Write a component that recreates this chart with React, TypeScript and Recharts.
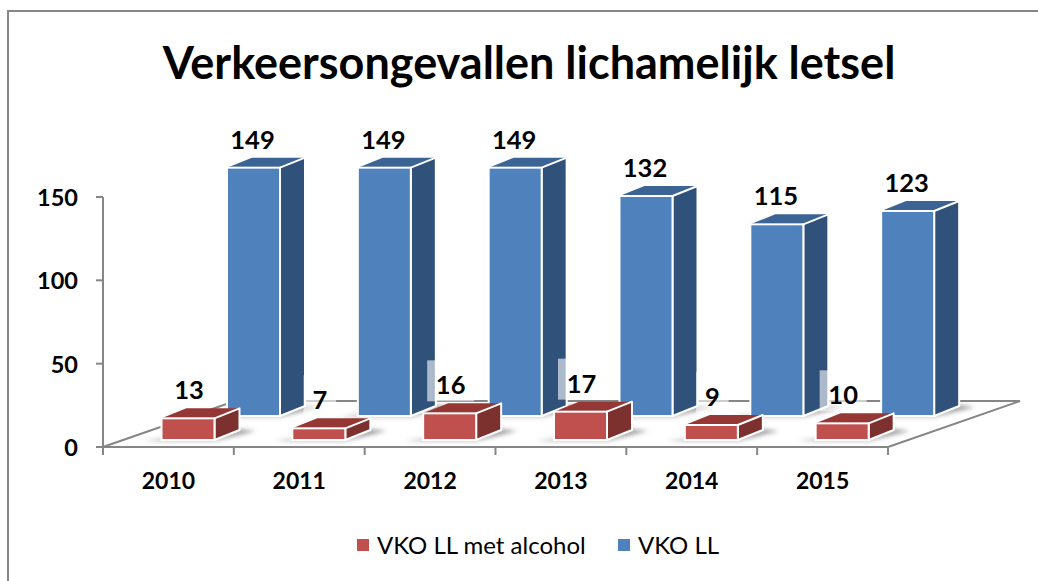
import React from 'react';
import { BarChart, Bar, XAxis, YAxis, Legend, LabelList } from 'recharts';

const years = ['2010', '2011', '2012', '2013', '2014', '2015'];
const alcoholValues = [13, 7, 16, 17, 9, 10];
const totalValues = [149, 149, 149, 132, 115, 123];
const yTicks = [0, 50, 100, 150];
const chartTitle = 'Verkeersongevallen lichamelijk letsel';
const alcoholName = 'VKO LL met alcohol';
const totalName = 'VKO LL';

const data = years.map((year, i) => ({ year, alcohol: alcoholValues[i], total: totalValues[i] }));

const FONT = 'Lato, sans-serif';
const AXIS = '#868686';
const W = 1038;
const H = 581;
const PLOT_LEFT = 103;
const PLOT_RIGHT = 888;
const PLOT_TOP = 197;
const PLOT_BOTTOM = 447;
const BAND = (PLOT_RIGHT - PLOT_LEFT) / years.length;
const DEPTH_X = 25;
const DEPTH_Y = 10;

const RED = { front: '#c0504d', side: '#7d312f', top: '#953735', shiftX: 19.5, shiftY: -7 };
const BLUE = { front: '#4f81bd', side: '#30527a', top: '#3b6393', shiftX: 85, shiftY: -31 };

const pts = (list: number[][]) => list.map((p) => p.join(',')).join(' ');

// fake 3D box, the depth rows are just shifted from the scaled bar
const Box3D = (props: any) => {
  const { x, y, width, height, look } = props;
  const l = x + look.shiftX;
  const r = l + width;
  const t = y + look.shiftY;
  const b = t + height;
  return (
    <g>
      <polygon
        points={pts([[l - 18, b + 1], [r, b + 1], [r + DEPTH_X + 16, b - DEPTH_Y + 1], [r + DEPTH_X, b - DEPTH_Y - 1], [r, b - 1], [l, b - 1]])}
        fill="#555"
        fillOpacity={0.55}
        filter="url(#floorBlur)"
      />
      <polygon points={pts([[l, t], [r, t], [r + DEPTH_X, t - DEPTH_Y], [l + DEPTH_X, t - DEPTH_Y]])} fill={look.top} />
      <polygon
        points={pts([[r, t], [r + DEPTH_X, t - DEPTH_Y], [r + DEPTH_X, b - DEPTH_Y], [r, b]])}
        fill={look.side}
        stroke="#fff"
        strokeWidth={2}
        strokeLinejoin="round"
      />
      <rect x={l} y={t} width={width} height={height} fill={look.front} stroke="#fff" strokeWidth={2} />
    </g>
  );
};

const ValueLabel = (props: any) => {
  const { x, y, width, value, look, boxed } = props;
  const cx = x + look.shiftX + width / 2 + (boxed ? 1 : -1);
  const cy = y + look.shiftY - 29;
  const textW = String(value).length * 14.5;
  return (
    <g>
      {boxed && (
        <rect x={cx - textW / 2 - 9} y={cy - 24} width={textW + 18} height={41} fill="#fff" fillOpacity={0.6} />
      )}
      <text x={cx} y={cy} textAnchor="middle" dominantBaseline="central" fontFamily={FONT} fontWeight={700} fontSize={25.5} fill="#000">
        {value}
      </text>
    </g>
  );
};

const XTick = (props: any) => {
  const { x, payload } = props;
  return (
    <g>
      <line x1={x - BAND / 2} x2={x - BAND / 2} y1={PLOT_BOTTOM} y2={PLOT_BOTTOM + 8} stroke={AXIS} strokeWidth={2} />
      <text x={x} y={PLOT_BOTTOM + 33} textAnchor="middle" dominantBaseline="central" fontFamily={FONT} fontWeight={700} fontSize={23} fill="#000">
        {payload.value}
      </text>
    </g>
  );
};

const YTick = (props: any) => {
  const { y, payload } = props;
  return (
    <text x={78} y={y} textAnchor="end" dominantBaseline="central" fontFamily={FONT} fontWeight={700} fontSize={23.5} fill="#000">
      {payload.value}
    </text>
  );
};

const LegendRow = () => (
  <div style={{ position: 'relative', height: 30, fontFamily: FONT, fontSize: 24, color: '#000', whiteSpace: 'nowrap' }}>
    <span style={{ position: 'absolute', left: 357, top: 9, width: 12, height: 12, background: RED.front }} />
    <span style={{ position: 'absolute', left: 377, top: 0, lineHeight: '30px' }}>{alcoholName}</span>
    <span style={{ position: 'absolute', left: 618, top: 9, width: 12, height: 12, background: BLUE.front }} />
    <span style={{ position: 'absolute', left: 638, top: 0, lineHeight: '30px' }}>{totalName}</span>
  </div>
);

export default function App() {
  return (
    <div style={{ position: 'absolute', left: 0, top: 0, width: W, height: H, overflow: 'hidden', background: '#fff' }}>
      {/* frame is cut off on the right and bottom in the original */}
      <div style={{ position: 'absolute', left: 7, top: 10, width: W - 7, height: H - 10, borderTop: `2px solid ${AXIS}`, borderLeft: `2px solid ${AXIS}`, boxSizing: 'border-box' }} />
      <BarChart
        width={W}
        height={H}
        data={data}
        barSize={53}
        barGap={-53}
        margin={{ top: PLOT_TOP, right: W - PLOT_RIGHT, bottom: 64, left: 43 }}
      >
        <defs>
          <filter id="floorBlur" x="-20%" y="-100%" width="140%" height="300%">
            <feGaussianBlur stdDeviation="2" />
          </filter>
        </defs>
        <text x={529} y={62} textAnchor="middle" dominantBaseline="central" fontFamily={FONT} fontWeight={700} fontSize={45} fill="#000">
          {chartTitle}
        </text>
        <polyline
          points={pts([[PLOT_LEFT, PLOT_BOTTOM], [235, 401], [1020, 401], [PLOT_RIGHT, PLOT_BOTTOM], [PLOT_RIGHT, PLOT_BOTTOM + 8]])}
          fill="none"
          stroke={AXIS}
          strokeWidth={2}
        />
        <XAxis dataKey="year" height={40} tick={<XTick />} tickLine={false} axisLine={{ stroke: AXIS, strokeWidth: 2 }} interval={0} />
        <YAxis
          width={60}
          domain={[0, 150]}
          ticks={yTicks}
          tick={<YTick />}
          tickSize={7}
          tickLine={{ stroke: AXIS, strokeWidth: 2 }}
          axisLine={{ stroke: AXIS, strokeWidth: 2 }}
        />
        <Legend
          content={<LegendRow />}
          wrapperStyle={{ left: 0, top: 530, bottom: 'auto', width: W }}
        />
        <Bar dataKey="total" name={totalName} fill={BLUE.front} isAnimationActive={false} shape={(p: any) => <Box3D {...p} look={BLUE} />}>
          <LabelList dataKey="total" content={(p: any) => <ValueLabel {...p} look={BLUE} />} />
        </Bar>
        <Bar dataKey="alcohol" name={alcoholName} fill={RED.front} isAnimationActive={false} shape={(p: any) => <Box3D {...p} look={RED} />}>
          <LabelList dataKey="alcohol" content={(p: any) => <ValueLabel {...p} look={RED} boxed />} />
        </Bar>
      </BarChart>
    </div>
  );
}
